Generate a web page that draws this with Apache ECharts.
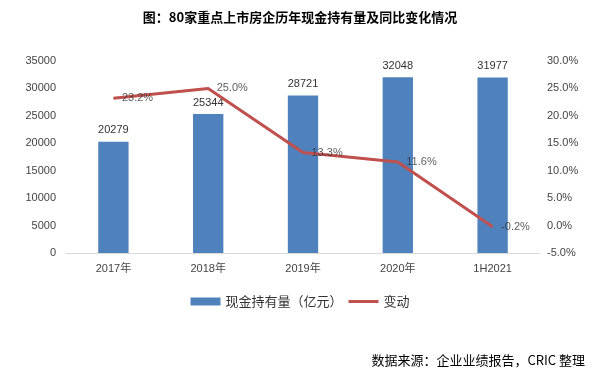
<!DOCTYPE html>
<html><head><meta charset="utf-8">
<script src="https://cdn.jsdelivr.net/npm/echarts@6/dist/echarts.min.js"></script>
<style>html,body{margin:0;padding:0;background:#fff}#c{width:600px;height:374px}</style>
</head><body><div id="c"></div>
<script>
const categories = ['2017年','2018年','2019年','2020年','1H2021'];
const cashValues = [20279, 25344, 28721, 32048, 31977];
const changeValues = [23.2, 25.0, 13.3, 11.6, -0.2];
const leftTicks = [0, 35000, 5000];
const rightTicks = [-5, 30, 5];

const font = '"Liberation Sans", "Noto Sans CJK SC", sans-serif';
const cjk = '"Noto Sans CJK SC", sans-serif';
const chart = echarts.init(document.getElementById('c'), null, {renderer:'canvas'});
chart.setOption({
  animation: false,
  textStyle: {fontFamily: font},
  title: [{
    text: '图：80家重点上市房企历年现金持有量及同比变化情况',
    left: 'center', top: 6,
    textStyle: {fontSize: 13, fontWeight: 'bold', color: '#000', fontFamily: cjk}
  },{
    text: '数据来源：企业业绩报告，CRIC 整理',
    right: 10, top: 349,
    textStyle: {fontSize: 13, fontWeight: 'normal', color: '#000', fontFamily: cjk}
  }],
  legend: {
    top: 290, left: 'center', itemGap: 6,
    itemWidth: 30, itemHeight: 8,
    textStyle: {fontSize: 13, color: '#333', fontFamily: cjk},
    data: [
      {name:'现金持有量（亿元）', icon:'rect'},
      {name:'变动', icon:'path://M0,0M0,8M0,2.5H30V5.5H0Z', itemStyle: {color: '#c0504d'}}
    ]
  },
  grid: {left: 66, right: 60, top: 61, bottom: 121},
  xAxis: {
    type: 'category', data: categories,
    axisLine: {lineStyle: {color: '#d9d9d9'}},
    axisTick: {show: false},
    axisLabel: {color: '#444', fontSize: 11, margin: 10}
  },
  yAxis: [{
    type: 'value', min: leftTicks[0], max: leftTicks[1], interval: leftTicks[2],
    splitLine: {show: false}, axisLine: {show: false}, axisTick: {show: false},
    axisLabel: {color: '#444', fontSize: 11, margin: 10, formatter: v => String(v)}
  },{
    type: 'value', min: rightTicks[0], max: rightTicks[1], interval: rightTicks[2],
    splitLine: {show: false}, axisLine: {show: false}, axisTick: {show: false},
    axisLabel: {color: '#444', fontSize: 11, margin: 7, formatter: v => v.toFixed(1) + '%'}
  }],
  series: [{
    name: '现金持有量（亿元）', type: 'bar', data: cashValues, barWidth: '32%',
    itemStyle: {color: '#4f81bd'},
    label: {show: true, position: 'top', color: '#333', fontSize: 11, distance: 6}
  },{
    name: '变动', type: 'line', yAxisIndex: 1, data: changeValues,
    symbol: 'none', lineStyle: {color: '#c0504d', width: 3}, itemStyle: {color: '#c0504d'}
  },{
    name: '变动标签', type: 'scatter', yAxisIndex: 1, data: changeValues,
    symbolSize: 1, itemStyle: {color: 'rgba(0,0,0,0)'}, silent: true, z: 5,
    label: {show: true, position: 'right', color: '#333', fontSize: 11, distance: 8,
      formatter: p => p.value.toFixed(1) + '%'}
  }]
});
</script></body></html>
